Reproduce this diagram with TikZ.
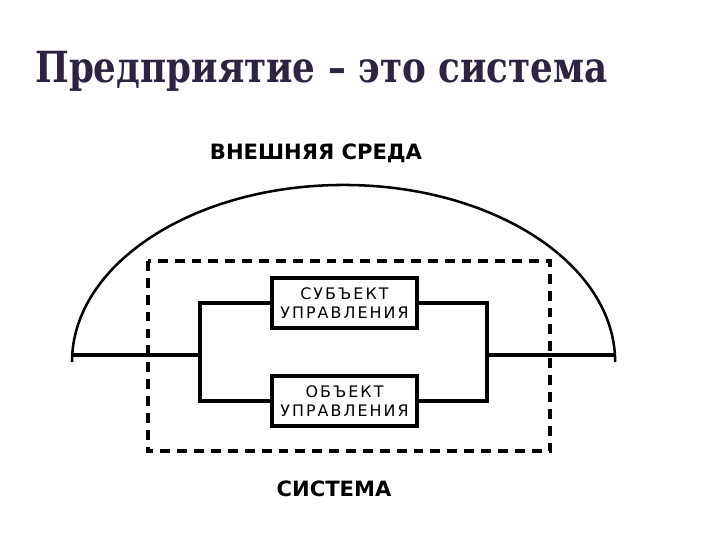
\documentclass[tikz,border=0pt]{standalone}
\usepackage{fontspec}
\setmainfont{DejaVu Sans}
\newfontfamily\titlefont{DejaVu Serif Condensed}
\newfontfamily\boxfont[LetterSpace=13]{DejaVu Sans}
\usetikzlibrary{positioning, calc}
\definecolor{titleviolet}{HTML}{2E2340}

\begin{document}
\begin{tikzpicture}[
    x=0.025cm, y=-0.025cm,
    thickline/.style={line width=2.2pt},
    arcline/.style={line width=1.8pt},
    dashline/.style={line width=2.2pt, dash pattern=on 7pt off 5pt},
    unitbox/.style={draw, line width=2.2pt, minimum width=3.625cm, minimum height=1.25cm,
        align=center, inner sep=1pt, font=\boxfont\fontsize{11.3}{14}\selectfont},
    caption/.style={font=\bfseries\fontsize{15}{17}\selectfont},
]
\useasboundingbox (0,0) rectangle (720,540);

% Title
\node[anchor=base west, inner sep=0, text=titleviolet,
      font=\titlefont\bfseries\fontsize{30.5}{36}\selectfont] (title) at (35,82)
      {\scalebox{0.925}[1]{Предприятие – это система}};

% Environment
\node[caption] (envlbl) at (316,153) {ВНЕШНЯЯ СРЕДА};
\coordinate (leftend) at (72,355);
\coordinate (rightend) at (615,355);
\draw[arcline] ($(leftend)+(0,7)$) arc[start angle=180, end angle=0, x radius=6.7875cm, y radius=4.425cm];

% System boundary
\draw[dashline] (148,261) rectangle (550,451);
\node[caption] (syslbl) at (334,489) {СИСТЕМА};

% Management units
\node[unitbox] (subj) at (344.5,303) {СУБЪЕКТ\\УПРАВЛЕНИЯ};
\node[unitbox] (obj) at (344.5,401) {ОБЪЕКТ\\УПРАВЛЕНИЯ};

% Forks
\coordinate (lfork) at (200,355);
\coordinate (rfork) at (487,355);
\draw[thickline] (subj.west) -| (lfork) |- (obj.west);
\draw[thickline] (subj.east) -| (rfork) |- (obj.east);
\draw[thickline] (leftend) -- (lfork);
\draw[thickline] (rfork) -- (rightend);

\end{tikzpicture}
\end{document}
